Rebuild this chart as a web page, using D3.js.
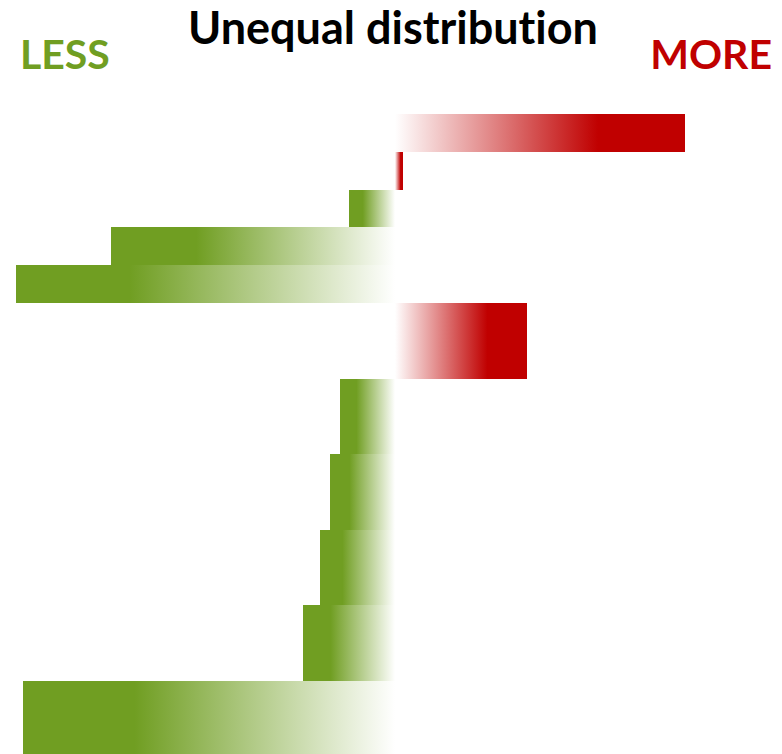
<!DOCTYPE html>
<html>
<head>
<meta charset="utf-8">
<script src="https://cdn.jsdelivr.net/npm/d3@7"></script>
<style>
  body { margin: 0; background: #fff; }
  svg { display: block; }
  text { font-variant-ligatures: none; font-feature-settings: "liga" 0; }
</style>
</head>
<body>
<svg id="chart" width="782" height="754"></svg>
<script>
// one entry per row, top to bottom
const rows = ['r1', 'r2', 'r3', 'r4', 'r5', 'r6', 'r7', 'r8', 'r9', 'r10', 'r11'];
// relative row thickness
const weights = [1, 1, 1, 1, 1, 2, 2, 2, 2, 2, 2];
// positive = more, negative = less
const values = [290, 8, -46, -284, -379, 132, -55, -65, -75, -92, -372];

const titleText = 'Unequal distribution';
const lessLabel = 'LESS';
const moreLabel = 'MORE';

const width = 782, height = 754;
const green = '#709E22', red = '#C00000';

const svg = d3.select('#chart');

const x = d3.scaleLinear().domain([-395, 387]).range([0, width]);
const totalW = d3.sum(weights);
const y = d3.scaleLinear().domain([0, totalW]).range([114, 114 + totalW * 37.8]);

// cumulative start of each row
const starts = [];
weights.reduce((acc, w) => { starts.push(acc); return acc + w; }, 0);

const data = rows.map((r, i) => ({ id: r, v: values[i], y0: starts[i], w: weights[i] }));

const defs = svg.append('defs');
function grad(id, color, reverse) {
    const g = defs.append('linearGradient')
        .attr('id', id)
        .attr('x1', reverse ? 1 : 0).attr('x2', reverse ? 0 : 1)
        .attr('y1', 0).attr('y2', 0);
    g.append('stop').attr('offset', 0).attr('stop-color', '#fff');
    g.append('stop').attr('offset', 0.7).attr('stop-color', color);
    g.append('stop').attr('offset', 1).attr('stop-color', color);
}
grad('gradMore', red, false);
grad('gradLess', green, true);

svg.append('g')
    .selectAll('rect')
    .data(data)
    .enter()
    .append('rect')
        .attr('x', d => x(Math.min(0, d.v)))
        .attr('width', d => Math.abs(x(d.v) - x(0)))
        .attr('y', d => y(d.y0))
        .attr('height', d => y(d.y0 + d.w) - y(d.y0))
        .attr('shape-rendering', 'crispEdges')
        .style('fill', d => d.v >= 0 ? 'url(#gradMore)' : 'url(#gradLess)');

svg.append('text')
    .attr('x', x(0) - 2).attr('y', 44)
    .attr('text-anchor', 'middle')
    .style('font-family', 'Lato, sans-serif')
    .style('font-weight', 'bold')
    .style('font-size', '45px')
    .text(titleText);

svg.append('text')
    .attr('x', 20).attr('y', 69)
    .style('font-family', 'Lato, sans-serif')
    .style('font-weight', 'bold')
    .style('font-size', '41px')
    .style('fill', green)
    .text(lessLabel);

svg.append('text')
    .attr('x', 772).attr('y', 69)
    .attr('text-anchor', 'end')
    .style('font-family', 'Lato, sans-serif')
    .style('font-weight', 'bold')
    .style('font-size', '41px')
    .style('fill', red)
    .text(moreLabel);
</script>
</body>
</html>
